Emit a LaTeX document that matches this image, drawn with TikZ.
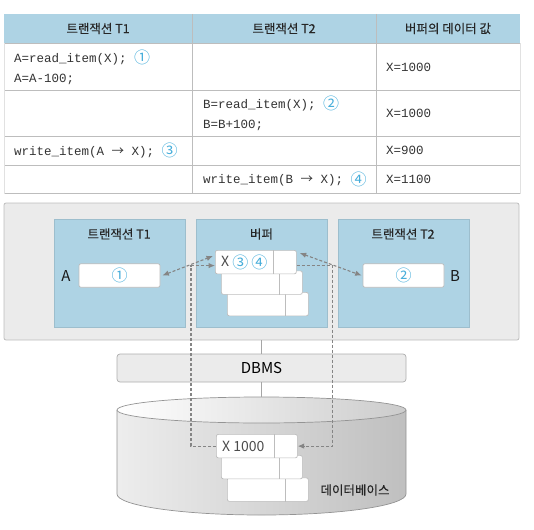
\documentclass[tikz,border=0pt]{standalone}
\usepackage{fontspec}
\setmainfont{Noto Sans CJK KR}
\setmonofont{Liberation Mono}
\newfontfamily\krfont{Noto Sans CJK KR}
\newfontfamily\krmed[FakeBold=0.25]{Noto Sans CJK KR}
\usetikzlibrary{arrows.meta}
\definecolor{hdrblue}{HTML}{AED3E4}
\definecolor{numblue}{HTML}{45ADDA}
\definecolor{gridgray}{HTML}{BDBDBD}
\definecolor{boxgray}{HTML}{EBEBEB}
\definecolor{flowgray}{HTML}{858585}
\newcommand\cnum[1]{\raisebox{-1.5pt}{\krfont\fontsize{16}{16}\selectfont\color{numblue}#1}}
\newcommand\arr{{\krfont →}}
\newcommand\datarec[4]{%
  \node[recbox, anchor=north west] (#1) at (#2,#3) {};
  \draw[grid] ([xshift=-23pt]#1.north east) -- ([xshift=-23pt]#1.south east);
  \node[rectext, anchor=west] (#1x) at ([xshift=6pt]#1.west) {#4};
}
\tikzset{
  grid/.style={draw=gridgray, line width=0.7pt},
  head/.style={font=\krmed\fontsize{12.5}{15}\selectfont, text=black!85},
  code/.style={font=\ttfamily\fontsize{12.5}{20}\selectfont, text=black!80,
    anchor=west, align=left, inner sep=0pt},
  sysbox/.style={draw=gridgray, fill=boxgray, rounded corners=2pt, line width=0.8pt,
    minimum width=515pt, minimum height=137pt},
  panel/.style={fill=hdrblue, draw=hdrblue!90!black, line width=0.4pt,
    minimum width=130.5pt, minimum height=108pt},
  recbox/.style={draw=gridgray, fill=white, rounded corners=2pt, line width=0.7pt,
    minimum width=81pt, minimum height=23.5pt, inner sep=0pt,
    font=\fontsize{13}{15}\selectfont},
  rectext/.style={inner sep=0pt, text=black!70, font=\fontsize{14}{16}\selectfont},
  label/.style={font=\fontsize{15}{17}\selectfont, text=black!90},
  dbmsbox/.style={draw=black!32, fill=boxgray, rounded corners=3pt, line width=0.7pt,
    minimum width=289pt, minimum height=28pt, font=\fontsize{15}{17}\selectfont},
  dbline/.style={draw=black!42, line width=0.7pt},
  flow/.style={draw=flowgray, line width=1.1pt, dash pattern=on 3pt off 2pt,
    >={Latex[length=6.5pt,width=5.5pt]}},
  link/.style={draw=black!35, line width=0.7pt}
}
\begin{document}
\begin{tikzpicture}[x=1pt,y=-1pt]
  \useasboundingbox (0,0) rectangle (534,529);

  \fill[hdrblue] (4,14) rectangle (520,43);
  \foreach \y in {43,90,136,165,193.5}
    \draw[grid] (4,\y) -- (520,\y);
  \foreach \x in {192,376}
    \draw[grid] (\x,14) -- (\x,193.5);
  \draw[grid, draw=gridgray!45] (4,43) -- (4,193.5) (520,43) -- (520,193.5);

  \node[head] (h1) at (98,28.5) {트랜잭션 T1};
  \node[head] (h2) at (284,28.5) {트랜잭션 T2};
  \node[head] (h3) at (448,28.5) {버퍼의 데이터 값};

  \node[code] (c11) at (14,67.5) {A=read\_item(X); \cnum{①}\\A=A-100;};
  \node[code] (c13) at (386,67.5) {X=1000};
  \node[code] (c22) at (203,113.5) {B=read\_item(X); \cnum{②}\\B=B+100;};
  \node[code] (c23) at (386,113.5) {X=1000};
  \node[code] (c31) at (14,150.5) {write\_item(A \arr{} X); \cnum{③}};
  \node[code] (c33) at (386,150.5) {X=900};
  \node[code] (c42) at (203,179) {write\_item(B \arr{} X); \cnum{④}};
  \node[code] (c43) at (386,179) {X=1100};

  \node[sysbox] (sys) at (261.5,271.5) {};
  \node[panel] (p1) at (119.75,273) {};
  \node[panel] (p2) at (261.75,273) {};
  \node[panel] (p3) at (403.5,273) {};
  \node[head] (p1t) at (119,234) {트랜잭션 T1};
  \node[head] (p2t) at (261.5,234) {버퍼};
  \node[head] (p3t) at (403,234) {트랜잭션 T2};

  \node[recbox] (abox) at (119.5,275.5) {\cnum{①}};
  \node[recbox] (bbox) at (403.5,275.5) {\cnum{②}};
  \node[label] (alab) at (66,276) {A};
  \node[label] (blab) at (455,276) {B};

  \datarec{buf3}{227}{292}{}
  \datarec{buf2}{221}{270.5}{}
  \datarec{buf1}{215}{250}{X \cnum{③} \cnum{④}}

  \node[dbmsbox] (dbms) at (261.5,368) {DBMS};

  \shade[left color=black!7, right color=black!25]
    (117,410) -- (117,494) arc[start angle=180, end angle=0, x radius=144.5, y radius=21]
    -- (406,410) -- cycle;
  \draw[dbline] (117,410) -- (117,494)
    arc[start angle=180, end angle=0, x radius=144.5, y radius=21] -- (406,410);
  \shade[left color=white, right color=black!20] (261.5,410) ellipse[x radius=144.5, y radius=13];
  \draw[dbline] (261.5,410) ellipse[x radius=144.5, y radius=13];
  \coordinate (dbtop) at (261.5,397);

  \datarec{db3}{227}{477.5}{}
  \datarec{db2}{221}{455}{}
  \datarec{db1}{216}{434}{X 1000}
  \node[head] (dblab) at (355,490) {데이터베이스};

  \draw[link] (sys.south) -- (dbms.north);
  \draw[link] (dbms.south) -- (dbtop);

  \draw[flow, <->] ([xshift=2pt]abox.east) -- ([shift={(-2,6)}]buf1.north west);
  \draw[flow, <->] ([shift={(3,3)}]buf1.north east) -- ([xshift=-1pt]bbox.west);
  \draw[flow, ->] (db1.west) -- ++(-25,0) |- ([yshift=-3.5pt]buf1.west);
  \draw[flow, ->] ([yshift=-3.5pt]buf1.east) -- ++(36,0) |- (db1.east);
\end{tikzpicture}
\end{document}
